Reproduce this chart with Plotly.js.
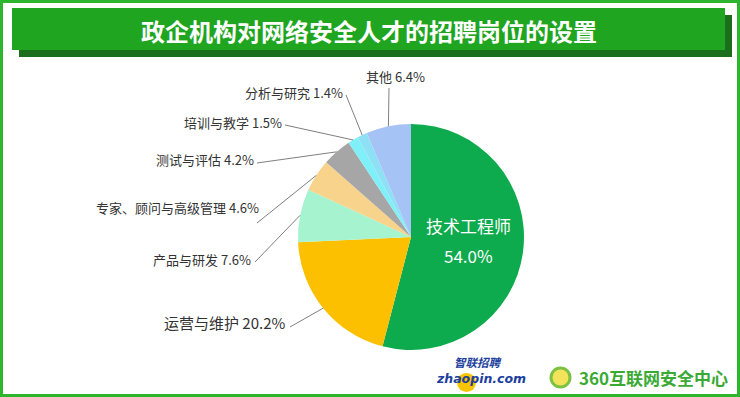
<!DOCTYPE html>
<html><head><meta charset="utf-8">
<script src="https://cdn.plot.ly/plotly-3.0.1.min.js"></script>
<style>html,body{margin:0;padding:0;background:#fff;}#chart{width:740px;height:397px;}</style>
</head><body><div id="chart"></div>
<script>
// ---- data ----
const categories = ['技术工程师','运营与维护','产品与研发','专家、顾问与高级管理','测试与评估','培训与教学','分析与研究','其他'];
const values = [54.0, 20.2, 7.6, 4.6, 4.2, 1.5, 1.4, 6.4];
const colors = ['#0dab4d','#fdc000','#a6f3cf','#f8d38c','#a6a6a6','#7ff0f8','#8ee0f4','#a6c3f6'];
const titleText = '政企机构对网络安全人才的招聘岗位的设置';

// ---- layout (pixel positions) ----
const W = 740, H = 397;
const cx = 411, cy = 237, R = 113;
// label anchors: [text x, text y, xanchor, line start x, line start y, font size]
const labelPos = [
  null,
  [288, 322, 'right', 290, 327, 15],
  [253, 259, 'right', 255, 262, 13],
  [261, 207, 'right', 257, 223, 13],
  [256, 160, 'right', 257, 163, 13],
  [284, 122, 'right', 285, 125, 13],
  [345, 92, 'right', 346, 95, 13],
  [395, 77, 'center', 389, 88, 13]
];
const px = x => x / W;
const py = y => 1 - y / H;
const fontCJK = '"Noto Sans CJK SC", "Microsoft YaHei", sans-serif';

const total = values.reduce((a, b) => a + b, 0);
const shapes = [];
const annotations = [];

// frame + title bar
shapes.push({type:'rect', xref:'paper', yref:'paper', x0:px(1.5), x1:px(738.5), y0:py(395.5), y1:py(1.5), line:{color:'#2db52d', width:3}, fillcolor:'rgba(0,0,0,0)', layer:'below'});
shapes.push({type:'rect', xref:'paper', yref:'paper', x0:px(19), x1:px(732), y0:py(57), y1:py(15), line:{width:0}, fillcolor:'#1b6e1b', layer:'below'});
shapes.push({type:'rect', xref:'paper', yref:'paper', x0:px(12), x1:px(725), y0:py(50), y1:py(8), line:{width:0}, fillcolor:'#1fa51f', layer:'below'});
annotations.push({text:'<b>'+titleText+'</b>', xref:'paper', yref:'paper', x:px(369), y:py(30), showarrow:false, font:{family:fontCJK, size:24, color:'#ffffff'}, xanchor:'center', yanchor:'middle'});

// leader lines + labels from data
let cum = 0;
values.forEach((v, i) => {
  const mid = (cum + v / 2) / total * 2 * Math.PI;
  cum += v;
  const ex = cx + R * Math.sin(mid);
  const ey = cy - R * Math.cos(mid);
  const lp = labelPos[i];
  if (!lp) return;
  shapes.push({type:'line', xref:'paper', yref:'paper', x0:px(lp[3]), y0:py(lp[4]), x1:px(ex), y1:py(ey), line:{color:'#7f7f7f', width:1}});
  annotations.push({text:categories[i] + ' ' + v.toFixed(1) + '%', xref:'paper', yref:'paper', x:px(lp[0]), y:py(lp[1]), xanchor:lp[2], yanchor:'middle', showarrow:false, font:{family:fontCJK, size:lp[5], color:'#333333'}});
});
// inside label of the big slice
annotations.push({text:categories[0], xref:'paper', yref:'paper', x:px(468), y:py(225), showarrow:false, font:{family:fontCJK, size:17, color:'#ffffff'}});
annotations.push({text:values[0].toFixed(1) + '%', xref:'paper', yref:'paper', x:px(468), y:py(255), showarrow:false, font:{family:fontCJK, size:17, color:'#ffffff'}});

// logos (as text)
shapes.push({type:'circle', xref:'paper', yref:'paper', x0:px(457), x1:px(476), y0:py(392), y1:py(373), line:{width:0}, fillcolor:'#f7c600', layer:'below'});
annotations.push({text:'<b><i>zhaopin.com</i></b>', xref:'paper', yref:'paper', x:px(481), y:py(378), yanchor:'middle', showarrow:false, borderpad:0, font:{family:'"DejaVu Sans", sans-serif', size:12.5, color:'#1d3f9e'}});
annotations.push({text:'<b><i>智联招聘</i></b>', xref:'paper', yref:'paper', x:px(503), y:py(362), yanchor:'middle', showarrow:false, borderpad:0, font:{family:fontCJK, size:11.5, color:'#1d3f9e'}});
shapes.push({type:'circle', xref:'paper', yref:'paper', x0:px(551), x1:px(570), y0:py(387), y1:py(368), line:{color:'#7cc242', width:3}, fillcolor:'#f3e35a'});
annotations.push({text:'<b>360互联网安全中心</b>', xref:'paper', yref:'paper', x:px(577), y:py(377), xanchor:'left', yanchor:'middle', showarrow:false, font:{family:fontCJK, size:17, color:'#3aaa35'}});

const trace = {
  type:'pie', labels:categories, values:values, sort:false, direction:'clockwise', rotation:0,
  marker:{colors:colors, line:{width:0}}, textinfo:'none', hoverinfo:'none',
  domain:{x:[px(cx - R), px(cx + R)], y:[py(cy + R), py(cy - R)]}
};
const layout = {
  width:W, height:H, margin:{l:0, r:0, t:0, b:0}, showlegend:false,
  paper_bgcolor:'#ffffff', shapes:shapes, annotations:annotations
};
Plotly.newPlot('chart', [trace], layout, {displayModeBar:false, staticPlot:true});
</script></body></html>
